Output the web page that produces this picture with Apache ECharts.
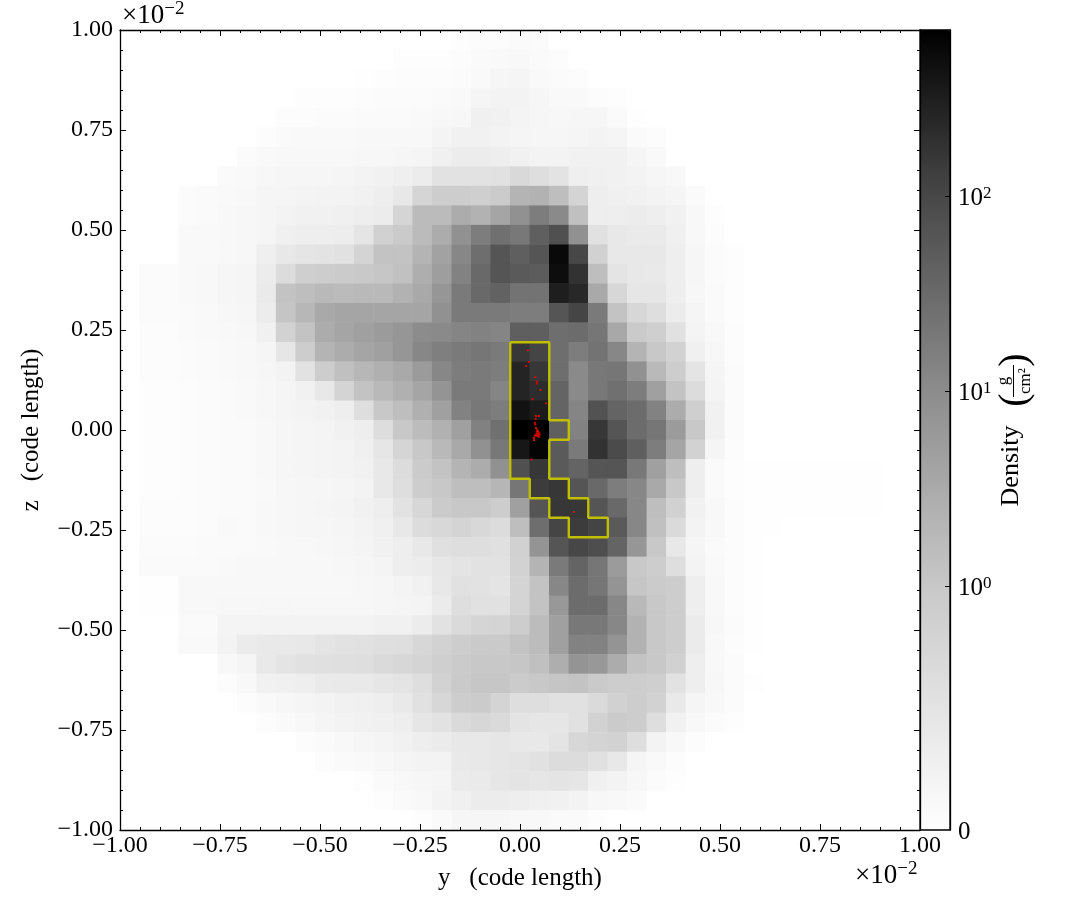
<!DOCTYPE html>
<html><head><meta charset="utf-8">
<style>html,body{margin:0;padding:0;background:#fff}#c{width:1085px;height:920px}</style>
<script src="https://cdn.jsdelivr.net/npm/echarts@6/dist/echarts.min.js"></script>
</head><body><div id="c"></div>
<script>
// Column index of the first occupied cell in every row (top row first)
const rowStart=[17,14,12,9,8,7,6,5,3,3,3,3,1,1,1,1,1,1,1,1,1,1,1,1,1,1,1,1,1,1,3,3,5,5,6,7,9,10,12,13,15];
// Density (g/cm^2), one array per image row
const row00=[.04,.05,.05,.09,.07];
const row01=[.04,.04,.04,.05,.09,.11,.13,.09,.05];
const row02=[.02,.04,.05,.05,.05,.07,.11,.16,.18,.11,.07,.05];
const row03=[.04,.04,.04,.05,.07,.07,.07,.09,.11,.18,.22,.22,.16,.11,.11,.05,.04];
const row04=[.05,.05,.07,.07,.09,.09,.09,.11,.13,.15,.27,.24,.2,.16,.15,.16,.16,.09,.02];
const row05=[.05,.09,.11,.11,.11,.13,.13,.13,.13,.2,.25,.25,.22,.18,.16,.16,.18,.22,.18,.09,.05];
const row06=[.07,.11,.13,.13,.13,.13,.15,.15,.16,.18,.27,.35,.35,.31,.24,.22,.22,.24,.25,.25,.18,.11];
const row07=[.09,.11,.15,.16,.16,.16,.18,.22,.24,.29,.35,.53,.53,.53,.55,.69,.6,.51,.29,.27,.25,.22,.16,.13];
const row08=[.07,.09,.11,.13,.18,.18,.2,.22,.22,.25,.31,.42,.75,.91,.91,.87,.95,2.15,2.33,1.47,.78,.31,.27,.25,.22,.18,.09];
const row09=[.07,.09,.13,.15,.18,.22,.24,.25,.27,.31,.35,.75,1.65,1.65,2.9,2.33,3.8,8.3,16.6,10.7,1.36,.31,.31,.35,.31,.25,.13,.04];
const row10=[.11,.11,.13,.15,.18,.27,.31,.31,.33,.47,.85,.96,1.65,2.9,8.3,16.6,26,19.7,46,76,8.3,.55,.42,.38,.38,.27,.13,.05];
const row11=[.11,.11,.13,.15,.29,.42,.47,.51,.55,.78,1.21,1.21,2.15,4.3,11.8,27.6,64,46,64,563,100,.85,.42,.42,.42,.31,.16,.07,.04];
const row12=[.07,.07,.11,.13,.16,.18,.35,.64,.87,.91,.95,.98,1.08,1.31,2.8,5,14,32.8,64,54,51,493,181,1.47,.49,.42,.4,.31,.16,.07,.04];
const row13=[.07,.07,.11,.13,.16,.18,.38,1.21,1.47,1.78,1.65,1.78,1.78,2.33,3.2,6.8,18.4,32.8,41,23.3,23.3,311,237,3.2,.73,.45,.45,.31,.15,.09,.04];
const row14=[.07,.07,.09,.11,.15,.16,.35,1.12,1.92,3.2,3.8,3.8,3.8,3.8,3.8,8.3,18.4,18.4,18.4,16.6,16.6,64,107,18.4,1.21,.73,.6,.35,.18,.09,.04];
const row15=[.05,.05,.09,.11,.13,.15,.27,.82,1.21,2.9,3.8,4.6,5.6,6.8,10,10.7,13,14,13,46,46,27.6,29.5,21,3.4,.96,.87,.55,.2,.13,.05];
const row16=[.05,.05,.07,.09,.11,.13,.18,.45,.91,2.15,2.9,3.8,4.6,6.8,11.8,15.5,18.4,21,18.4,158,107,27.6,16.6,23.3,11.8,2.15,1,.82,.27,.15,.05];
const row17=[.05,.05,.07,.09,.11,.13,.16,.22,.53,.91,1.36,1.92,2.6,3.2,5.6,11.8,16.6,18.4,16.6,272,158,27.6,10.7,19.7,21,8.3,1.78,.91,.49,.18,.07];
const row18=[.04,.04,.05,.07,.09,.11,.15,.18,.24,.42,.78,1.21,1.78,2.6,3.8,7.4,18.4,18.4,13,272,207,38.7,10.7,19.7,25.8,16.6,4.6,1.21,.64,.2,.07];
const row19=[.04,.04,.05,.07,.09,.11,.15,.18,.22,.24,.31,.6,1,1.47,2.6,4.6,14,19.7,16.6,430,329,38.7,12.7,71,38.7,29.5,14,2.9,.87,.24,.07];
const row20=[.04,.04,.05,.07,.09,.09,.13,.16,.18,.2,.24,.31,.62,1,1.58,2.5,4.6,14.5,25.8,700,700,46,14,158,64,29.5,21,5.6,1,.24,.07];
const row21=[.04,.04,.05,.07,.09,.09,.13,.16,.18,.2,.22,.27,.45,.76,1,1.78,3.2,8.3,19.7,385,610,54,18.4,181,90,46,16.6,3.8,.82,.18,.05];
const row22=[.04,.04,.05,.07,.09,.09,.13,.16,.18,.2,.22,.25,.42,.64,.95,1.21,2.15,2.9,8.3,76,158,54,38.7,64,64,19.7,4.6,1.47,.31,.09,.04,.02,.02,.02,.02,.02,.02,.02];
const row23=[.04,.04,.05,.07,.09,.09,.11,.15,.16,.16,.18,.22,.42,.6,.91,1,1.47,1.47,2,21,138,158,64,32.8,16.6,11.8,3.2,1,.31,.09,.04,.02,.02,.02,.02,.02,.02,.02];
const row24=[.05,.05,.05,.07,.09,.09,.13,.15,.16,.18,.2,.25,.31,.53,.73,.95,1,1,.91,4.6,64,158,158,64,32.8,11.8,1.47,.85,.25,.13,.05,.02,.02,.02,.02,.02,.02,.02];
const row25=[.05,.05,.05,.07,.11,.09,.13,.15,.16,.16,.18,.22,.27,.42,.64,.71,.78,.71,.64,1.47,27.6,107,138,111,54,11.8,1.36,.67,.22,.13,.05,.02,.02];
const row26=[.07,.07,.07,.09,.09,.09,.11,.13,.13,.15,.16,.2,.24,.31,.42,.56,.6,.6,.56,.85,7.4,64,100,82,38.7,6.8,1,.42,.18,.09,.05,.02];
const row27=[.09,.09,.09,.09,.11,.13,.13,.13,.13,.13,.15,.16,.2,.31,.35,.44,.49,.53,.53,.82,2.15,18.4,38.7,21,5.6,1,.91,.6,.22,.11,.05,.02];
const row28=[.02,.02,.13,.13,.13,.13,.13,.13,.13,.13,.13,.15,.16,.2,.25,.42,.55,.53,.49,.78,1.21,11.8,29.5,21,7.4,1.08,.95,.91,.31,.13,.05,.02];
const row29=[.02,.02,.13,.13,.15,.15,.15,.15,.15,.15,.15,.15,.16,.18,.2,.36,.6,.55,.55,.78,1.21,6.3,29.5,29.5,11.8,1.78,1,.91,.31,.13,.05,.02];
const row30=[.09,.09,.2,.2,.22,.22,.22,.22,.22,.22,.24,.25,.35,.53,.67,.75,.78,.91,1.58,4.6,19.7,19.7,11.8,2.33,1,.91,.36,.15,.07,.02];
const row31=[.11,.11,.22,.36,.4,.4,.42,.49,.53,.55,.58,.6,.73,.82,.91,.96,.96,1.21,1.58,4.6,14,14,7.4,2.33,1,.91,.36,.13,.05,.02];
const row32=[.13,.18,.4,.49,.55,.56,.58,.6,.67,.73,.78,.87,.95,1,1,1.08,1.36,2.8,7.4,6.3,2.9,1.21,1,.85,.31,.13,.07];
const row33=[.05,.13,.24,.27,.31,.38,.4,.4,.45,.49,.6,.82,.96,1.08,1.08,.95,1,1.12,1.21,.96,.91,.91,.87,.53,.31,.15,.07,.02];
const row34=[.05,.11,.15,.18,.22,.24,.27,.31,.4,.55,.73,.91,.95,.78,.6,.6,.55,.55,.67,.85,.91,.82,.4,.18,.13,.07];
const row35=[.05,.09,.13,.18,.22,.24,.27,.31,.45,.53,.67,.73,.67,.49,.45,.45,.55,.82,.95,.91,.6,.24,.13,.07,.04];
const row36=[.05,.09,.13,.16,.2,.24,.31,.36,.42,.42,.45,.42,.42,.49,.73,.78,.82,.6,.22,.13,.05];
const row37=[.05,.09,.11,.15,.18,.22,.22,.4,.42,.45,.49,.55,.64,.64,.55,.42,.18,.11,.05];
const row38=[.04,.09,.13,.16,.18,.36,.38,.45,.49,.45,.49,.45,.27,.22,.15,.07,.04];
const row39=[.04,.09,.13,.22,.27,.35,.35,.31,.27,.24,.22,.15,.13,.09];
const row40=[.04,.09,.16,.16,.16,.13,.13,.09,.09,.04];
const densityRows=[row00,row01,row02,row03,row04,row05,row06,row07,row08,row09,row10,row11,row12,row13,row14,row15,row16,row17,row18,row19,row20,row21,row22,row23,row24,row25,row26,row27,row28,row29,row30,row31,row32,row33,row34,row35,row36,row37,row38,row39,row40];
// Yellow contour (units of 1e-2 code length)
const contourY=[-.0244,.0732,.0732,.122,.122,.0732,.0732,.122,.122,.1707,.1707,.2195,.2195,.122,.122,.0732,.0732,.0244,.0244,-.0244,-.0244];
const contourZ=[.2195,.2195,.0244,.0244,-.0244,-.0244,-.122,-.122,-.1707,-.1707,-.2195,-.2195,-.2683,-.2683,-.2195,-.2195,-.1707,-.1707,-.122,-.122,.2195];
// Red particles
const particleY=[.0196,.0221,.0154,.038,.042,.042,.051,.031,.065,.040,.047,.039,.037,.038,.040,.043,.045,.048,.049,.047,.040,.037,.035,.035,.029,.135,.042,.045,.041,.044];
const particleZ=[.199,.170,.160,.132,.121,.116,.100,.077,.067,.035,.035,.028,.018,.014,.005,.001,-.003,-.007,-.012,-.017,-.014,-.014,-.020,-.025,-.074,-.205,-.004,-.010,-.009,-.015];
const axisTicks=[-1,-.75,-.5,-.25,0,.25,.5,.75,1];
const colorbarTicks=[0,1,10,100];
const colorbarExp={1:'0',10:'1',100:'2'};

const FONT='"Liberation Serif"';
const FS=24;
const symlog=d=>d<=1?.305*d:Math.min(1,.305+.24375*Math.log10(d));
const grayStops=[[0,255],[.305,200],[.54875,140],[.7925,72],[1,0]];
function grayAt(t){for(let k=1;k<grayStops.length;k++){const a=grayStops[k-1],b=grayStops[k];if(t<=b[0]){return Math.round(a[1]+(b[1]-a[1])*(t-a[0])/(b[0]-a[0]));}}return 0;}
const ramp=[];for(let k=0;k<=80;k++){const g=grayAt(k/80);ramp.push(`rgb(${g},${g},${g})`);}
const cats=Array.from({length:41},(_,i)=>i);
const cells=[];
densityRows.forEach((r,j)=>{for(let i=0;i<41;i++){const k=i-rowStart[j];const d=(k>=0&&k<r.length)?r[k]:0;cells.push([i,j,symlog(d),d]);}});
const fmt=v=>(v<0?'\u2212':'')+Math.abs(v).toFixed(2);
function valAxis(pos,extra,labels,pad){return Object.assign({type:'value',position:pos,min:-1,max:1,interval:.25,gridIndex:0,z:8,splitLine:{show:false},
  axisLine:{show:true,onZero:false,lineStyle:{color:'#000',width:1.3}},
  axisTick:{show:true,inside:true,length:6,lineStyle:{color:'#000',width:1}},
  minorTick:{show:true,splitNumber:5,length:3,lineStyle:{color:'#000',width:1}},minorSplitLine:{show:false},
  axisLabel:labels?{show:true,formatter:fmt,fontFamily:FONT,fontSize:FS,color:'#000',margin:pad,showMinLabel:true,showMaxLabel:true,hideOverlap:false}:{show:false}},extra);}
const nameStyle={fontFamily:FONT,fontSize:25,color:'#000'};
const option={animation:false,backgroundColor:'#fff',
 grid:[{left:120,top:30,width:800,height:800,show:false},{left:920,top:30,width:30,height:800,show:true,backgroundColor:'transparent',borderColor:'#000',borderWidth:1.3,z:10}],
 xAxis:[
  {type:'category',data:cats,show:false,gridIndex:0},
  valAxis('bottom',{name:'y\u00a0\u00a0\u00a0(code length)',nameLocation:'middle',nameGap:36,nameTextStyle:nameStyle},true,4),
  valAxis('top',{},false),
  {type:'value',min:0,max:1,show:false,gridIndex:1}],
 yAxis:[
  {type:'category',data:cats,inverse:true,show:false,gridIndex:0},
  valAxis('left',{name:'z\u00a0\u00a0\u00a0(code length)',nameLocation:'middle',nameGap:76,nameRotate:90,nameTextStyle:nameStyle,axisLabel:{show:true,formatter:fmt,fontFamily:FONT,fontSize:FS,color:'#000',margin:7,padding:[4,0,0,0],showMinLabel:true,showMaxLabel:true,hideOverlap:false}},true),
  valAxis('right',{},false),
  {type:'value',gridIndex:1,position:'right',min:0,max:1,z:10,splitLine:{show:false},
   axisLine:{show:true,onZero:false,lineStyle:{color:'#000',width:1.3}},
   axisTick:{show:true,inside:true,length:5,customValues:colorbarTicks.slice(1).map(symlog),lineStyle:{color:'#000',width:1}},
   axisLabel:{show:true,customValues:colorbarTicks.map(symlog),margin:8,fontFamily:FONT,fontSize:25,color:'#000',align:'left',padding:[5,0,0,0],
    formatter:v=>{const d=colorbarTicks.find(c=>Math.abs(symlog(c)-v)<1e-6);return d===0?'0':'10{s|'+colorbarExp[d]+'}';},
    rich:{s:{fontFamily:FONT,fontSize:17,color:'#000',padding:[0,0,10,0]}}}}],
 visualMap:{type:'continuous',seriesIndex:0,dimension:2,min:0,max:1,left:920,top:30,itemWidth:30,itemHeight:800,padding:0,calculable:false,hoverLink:false,showLabel:false,text:null,inRange:{color:ramp},textStyle:{color:'transparent'}},
 series:[
  {type:'heatmap',xAxisIndex:0,yAxisIndex:0,data:cells,encode:{x:0,y:1},silent:true,emphasis:{disabled:true},progressive:0,z:1},
  {type:'line',xAxisIndex:1,yAxisIndex:1,data:contourY.map((y,i)=>[y,contourZ[i]]),symbol:'none',lineStyle:{color:'#bfbf00',width:2.4},silent:true,z:3},
  {type:'scatter',xAxisIndex:1,yAxisIndex:1,data:particleY.map((y,i)=>[y,particleZ[i]]),symbol:'rect',symbolSize:2,itemStyle:{color:'#ff0000'},silent:true,z:4}
 ],
 graphic:[
  {type:'text',x:122,y:31,z:20,silent:true,style:{text:'\u00d710{s|\u22122}',font:`27px ${FONT}`,fill:'#000',verticalAlign:'bottom',rich:{s:{fontFamily:FONT,fontSize:19,fill:'#000',padding:[0,0,12,0]}}}},
  {type:'text',x:855,y:891,z:20,silent:true,style:{text:'\u00d710{s|\u22122}',font:`27px ${FONT}`,fill:'#000',verticalAlign:'bottom',rich:{s:{fontFamily:FONT,fontSize:19,fill:'#000',padding:[0,0,12,0]}}}},
  {type:'text',x:1011,y:466,rotation:Math.PI/2,z:20,silent:true,style:{text:'Density',font:`26px ${FONT}`,fill:'#000',align:'center',verticalAlign:'middle'}},
  {type:'text',x:1015,y:400,rotation:Math.PI/2,z:20,silent:true,style:{text:'(',font:`40px ${FONT}`,fill:'#000',align:'center',verticalAlign:'middle'}},
  {type:'text',x:1015,y:360,rotation:Math.PI/2,z:20,silent:true,style:{text:')',font:`40px ${FONT}`,fill:'#000',align:'center',verticalAlign:'middle'}},
  {type:'text',x:1004,y:381,rotation:Math.PI/2,z:20,silent:true,style:{text:'g',font:`17px ${FONT}`,fill:'#000',align:'center',verticalAlign:'middle'}},
  {type:'text',x:1026,y:381,rotation:Math.PI/2,z:20,silent:true,style:{text:'cm\u00b2',font:`17px ${FONT}`,fill:'#000',align:'center',verticalAlign:'middle'}},
  {type:'line',z:20,silent:true,shape:{x1:1013.5,y1:365,x2:1013.5,y2:397},style:{stroke:'#000',lineWidth:1}}
 ]};
const chart=echarts.init(document.getElementById('c'),null,{renderer:'canvas',width:1085,height:920});
chart.setOption(option);
</script></body></html>
